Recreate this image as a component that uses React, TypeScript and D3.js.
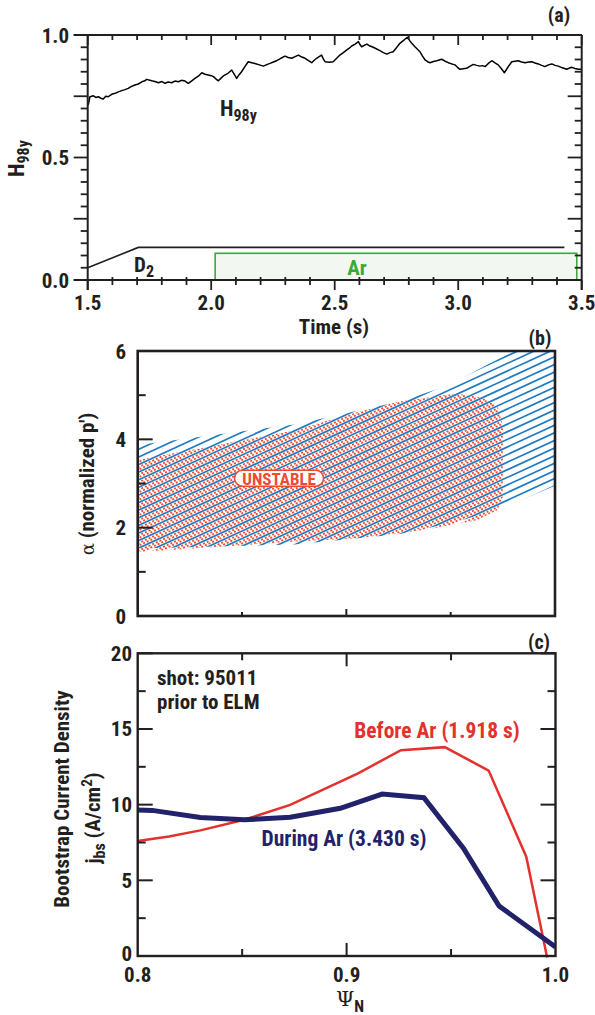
import React from "react";
import * as d3 from "d3";

// ---------- Panel (a) data ----------
const H98Y_TRACE: [number, number][] = [
  [1.502, 0.714], [1.509, 0.748], [1.523, 0.752], [1.533, 0.745], [1.543, 0.748], [1.553, 0.742], [1.563, 0.739], [1.573, 0.75], [1.583, 0.748],
  [1.597, 0.758], [1.611, 0.762], [1.624, 0.768], [1.638, 0.773], [1.651, 0.777], [1.664, 0.782], [1.677, 0.79], [1.691, 0.796], [1.705, 0.8], [1.719, 0.809], [1.729, 0.812], [1.739, 0.819],
  [1.759, 0.813], [1.772, 0.81], [1.786, 0.805], [1.8, 0.81], [1.813, 0.803], [1.826, 0.808], [1.84, 0.805], [1.853, 0.812], [1.867, 0.809], [1.88, 0.815], [1.894, 0.812],
  [1.907, 0.803], [1.92, 0.812], [1.934, 0.823], [1.948, 0.832], [1.962, 0.846], [1.975, 0.84], [1.988, 0.837], [2.0, 0.834], [2.009, 0.83], [2.02, 0.82], [2.029, 0.813],
  [2.04, 0.824], [2.049, 0.833], [2.066, 0.842], [2.083, 0.857], [2.093, 0.84], [2.103, 0.823], [2.113, 0.838], [2.123, 0.85], [2.137, 0.872], [2.15, 0.891], [2.164, 0.887], [2.177, 0.884],
  [2.195, 0.878], [2.211, 0.873], [2.225, 0.879], [2.238, 0.884], [2.252, 0.89], [2.265, 0.895], [2.282, 0.905], [2.299, 0.914], [2.312, 0.908], [2.326, 0.905], [2.34, 0.912], [2.353, 0.918],
  [2.367, 0.91], [2.38, 0.905], [2.394, 0.895], [2.407, 0.887], [2.417, 0.897], [2.427, 0.905], [2.437, 0.912], [2.447, 0.918], [2.454, 0.902], [2.461, 0.891], [2.478, 0.889], [2.494, 0.891],
  [2.508, 0.905], [2.521, 0.918], [2.535, 0.928], [2.549, 0.939], [2.559, 0.946], [2.569, 0.955], [2.583, 0.963], [2.596, 0.973], [2.603, 0.96], [2.609, 0.952], [2.62, 0.958], [2.63, 0.963],
  [2.643, 0.955], [2.656, 0.95], [2.67, 0.943], [2.683, 0.936], [2.697, 0.928], [2.711, 0.922], [2.724, 0.928], [2.737, 0.932], [2.75, 0.948], [2.764, 0.966], [2.779, 0.978], [2.794, 0.991],
  [2.803, 0.978], [2.812, 0.966], [2.825, 0.952], [2.838, 0.939], [2.845, 0.932], [2.855, 0.915], [2.866, 0.898], [2.876, 0.891], [2.886, 0.887], [2.9, 0.892], [2.913, 0.895],
  [2.923, 0.898], [2.933, 0.901], [2.947, 0.893], [2.96, 0.887], [2.974, 0.882], [2.987, 0.878], [2.997, 0.868], [3.007, 0.86], [3.02, 0.862], [3.034, 0.864], [3.047, 0.872], [3.061, 0.88],
  [3.075, 0.876], [3.088, 0.873], [3.098, 0.875], [3.109, 0.871], [3.122, 0.884], [3.136, 0.895], [3.149, 0.886], [3.162, 0.878], [3.175, 0.862], [3.187, 0.846], [3.202, 0.87], [3.217, 0.891],
  [3.23, 0.893], [3.243, 0.895], [3.257, 0.89], [3.271, 0.887], [3.285, 0.89], [3.298, 0.891], [3.311, 0.886], [3.324, 0.882], [3.338, 0.876], [3.351, 0.871], [3.365, 0.878], [3.379, 0.882],
  [3.392, 0.876], [3.405, 0.873], [3.422, 0.866], [3.439, 0.86], [3.45, 0.865], [3.46, 0.868], [3.473, 0.863], [3.486, 0.86], [3.497, 0.86],
];
const D2_TIME = [1.5, 1.705, 3.43];
const D2_LEVEL = [0.05, 0.133, 0.133];
const AR_WINDOW = [2.016, 3.48];
const AR_LEVEL = 0.109;
const A_XTICKS = ["1.5", "2.0", "2.5", "3.0", "3.5"];
const A_YTICKS = ["0.0", "0.5", "1.0"];

// ---------- Panel (b) data ----------
const STABLE_X = [0, 1.52, 2.5, 2.96, 3.36, 3.57, 3.75, 4.05, 4.05, 3.45, 3.0, 2.5, 1.5, 0];
const STABLE_A = [3.87, 4.34, 4.85, 5.2, 5.7, 5.95, 6.2, 6.2, 3.0, 2.4, 2.1, 1.85, 1.62, 1.53];
const UNSTABLE_X = [0, 0, 1.52, 2.0, 2.5, 3.05, 3.3, 3.45, 3.5, 3.5, 3.45, 3.25, 2.74, 2.1, 1.46, 0.6];
const UNSTABLE_A = [1.45, 3.53, 4.21, 4.55, 4.85, 5.04, 4.95, 4.75, 4.3, 2.7, 2.4, 2.17, 1.95, 1.76, 1.68, 1.54];
const B_YTICKS = ["0", "2", "4", "6"];
const UNSTABLE_LABEL_POS = [1.355, 3.12];

// ---------- Panel (c) data ----------
const PSI_BEFORE = [0.8, 0.805, 0.815, 0.83, 0.851, 0.873, 0.881, 0.9055, 0.926, 0.947, 0.968, 0.986, 0.996];
const J_BEFORE = [7.6, 7.7, 7.9, 8.3, 9.0, 9.98, 10.5, 12.07, 13.6, 13.8, 12.25, 6.56, -0.1];
const PSI_DURING = [0.8, 0.807, 0.83, 0.851, 0.873, 0.897, 0.917, 0.937, 0.956, 0.973, 1.0];
const J_DURING = [9.65, 9.62, 9.15, 9.0, 9.17, 9.76, 10.7, 10.46, 7.1, 3.3, 0.6];
const C_XTICKS = ["0.8", "0.9", "1.0"];
const C_YTICKS = ["0", "5", "10", "15", "20"];

const FONT = "'Liberation Sans Narrow','Arial Narrow','Roboto Condensed','Liberation Sans',Arial,sans-serif";
const INK = "#231f20";
const RED = "#e3312d";
const NAVY = "#22226a";
const BLUE = "#1f7bc2";
const STIPPLE = "#f04a33";
const GREEN = "#3aa935";

function hatchLines(x0: number, x1: number, y0: number, y1: number, slope: number, gap: number, offset: number) {
  const res: { x1: number; y1: number; x2: number; y2: number }[] = [];
  const span = (x1 - x0) * slope;
  for (let b = y0 + offset; b <= y1 + span; b += gap) {
    res.push({ x1: x0, y1: b, x2: x1, y2: b - span });
  }
  return res;
}

export default function App() {
  const ax = d3.scaleLinear().domain([1.5, 3.5]).range([87.7, 581.7]);
  const ay = d3.scaleLinear().domain([0, 1]).range([280, 35]);
  const bx = d3.scaleLinear().domain([0, 4]).range([137.7, 555]);
  const by = d3.scaleLinear().domain([0, 6]).range([616, 351]);
  const cx = d3.scaleLinear().domain([0.8, 1.0]).range([137.7, 555.5]);
  const cy = d3.scaleLinear().domain([0, 20]).range([956, 653.3]);

  const hLine = d3.line<[number, number]>().x((d) => ax(d[0])).y((d) => ay(d[1]));
  const d2Path = d3.line<number>().x((d, i) => ax(D2_TIME[i])).y((d) => ay(d))(D2_LEVEL) || "";

  const stablePath = d3.line<number>().x((d) => bx(d)).y((d, i) => by(STABLE_A[i]))(STABLE_X) + "Z";
  const unstablePath = d3.line<number>().x((d) => bx(d)).y((d, i) => by(UNSTABLE_A[i]))(UNSTABLE_X) + "Z";

  const beforePath = d3.line<number>().x((d) => cx(d)).y((d, i) => cy(J_BEFORE[i]))(PSI_BEFORE) || "";
  const duringPath = d3.line<number>().x((d) => cx(d)).y((d, i) => cy(J_DURING[i]))(PSI_DURING) || "";

  const slope = 0.46;
  const gap = 7.6;
  const blueLines = hatchLines(bx(0), bx(4), by(6), by(0), slope, gap, 0);
  const redLinesA = hatchLines(bx(0), bx(4), by(6), by(0), slope, gap, gap * 0.33);
  const redLinesB = hatchLines(bx(0), bx(4), by(6), by(0), slope, gap, gap * 0.66);

  const aMinor = d3.range(0, 21).map((i) => i * 0.05);
  const aTop = d3.range(0, 21).map((i) => 1.5 + i * 0.1);
  const cYticks = d3.range(0, 9).map((i) => i * 2.5);

  return (
    <svg width={595} height={1015} style={{ position: "absolute", left: 0, top: 0, background: "#fff" }} fontFamily={FONT}>
      <defs>
        <clipPath id="clipStable">
          <path d={stablePath} />
        </clipPath>
        <clipPath id="clipUnstable">
          <path d={unstablePath} />
        </clipPath>
        <clipPath id="clipB">
          <rect x={bx(0)} y={by(6)} width={bx(4) - bx(0)} height={by(0) - by(6)} />
        </clipPath>
        <clipPath id="clipC">
          <rect x={cx(0.8)} y={cy(20) - 5} width={cx(1) - cx(0.8)} height={cy(0) - cy(20) + 10} />
        </clipPath>
      </defs>

      {/* ================= Panel (a) ================= */}
      <g>
        <rect
          x={ax(AR_WINDOW[0])}
          y={ay(AR_LEVEL)}
          width={ax(AR_WINDOW[1]) - ax(AR_WINDOW[0])}
          height={ay(0) - ay(AR_LEVEL)}
          fill="#f3f7f1"
          stroke={GREEN}
          strokeWidth={1.6}
        />
        <path d={d2Path} fill="none" stroke={INK} strokeWidth={1.6} />
        <path d={hLine(H98Y_TRACE) || ""} fill="none" stroke="#000" strokeWidth={1.5} strokeLinejoin="round" />
        <line x1={ax(1.5) - 14} x2={ax(3.5)} y1={ay(1)} y2={ay(1)} stroke={INK} strokeWidth={2} />
        <line x1={ax(1.5) - 14} x2={ax(3.5)} y1={ay(0)} y2={ay(0)} stroke={INK} strokeWidth={2} />
        <line x1={ax(1.5)} x2={ax(1.5)} y1={ay(1)} y2={ay(0) + 10} stroke={INK} strokeWidth={2} />
        <line x1={ax(3.5)} x2={ax(3.5)} y1={ay(1)} y2={ay(0) + 10} stroke={INK} strokeWidth={2} />
        {aMinor.map((v, i) => {
          const major = i % 5 === 0;
          return (
            <g key={"ay" + i}>
              <line x1={ax(1.5) - (major ? 14 : 7)} x2={ax(1.5)} y1={ay(v)} y2={ay(v)} stroke={INK} strokeWidth={1.8} />
              <line x1={ax(3.5) - (major ? 14 : 7)} x2={ax(3.5)} y1={ay(v)} y2={ay(v)} stroke={INK} strokeWidth={1.8} />
            </g>
          );
        })}
        {aTop.map((v, i) => {
          const major = i % 5 === 0;
          return (
            <g key={"ax" + i}>
              <line x1={ax(v)} x2={ax(v)} y1={ay(1)} y2={ay(1) + (major ? 10 : 5)} stroke={INK} strokeWidth={1.8} />
              <line x1={ax(v)} x2={ax(v)} y1={major ? ay(0) : ay(0) - 3} y2={ay(0) + (major ? 10 : 5)} stroke={INK} strokeWidth={1.8} />
            </g>
          );
        })}
        {A_YTICKS.map((t) => (
          <text key={t} x={69} y={ay(+t) + 7.5} textAnchor="end" fontSize={21} fontWeight="bold" fill={INK}>
            {t}
          </text>
        ))}
        {A_XTICKS.map((t) => (
          <text key={t} x={ax(+t)} y={310} textAnchor="middle" fontSize={21} fontWeight="bold" fill={INK}>
            {t}
          </text>
        ))}
        <text x={334} y={334} textAnchor="middle" fontSize={21} fontWeight="bold" fill={INK}>
          Time (s)
        </text>
        <text x={559} y={22} textAnchor="middle" fontSize={20} fontWeight="bold" fill={INK}>
          (a)
        </text>
        <text transform="translate(24,177) rotate(-90)" fontSize={22} fontWeight="bold" fill={INK}>
          H<tspan fontSize={16} dy={5}>98y</tspan>
        </text>
        <text x={220} y={116} fontSize={22} fontWeight="bold" fill={INK}>
          H<tspan fontSize={16} dy={5}>98y</tspan>
        </text>
        <text x={134} y={272} fontSize={21} fontWeight="bold" fill={INK}>
          D<tspan fontSize={16} dy={5}>2</tspan>
        </text>
        <text x={357} y={275} textAnchor="middle" fontSize={21} fontWeight="bold" fill={GREEN}>
          Ar
        </text>
      </g>

      {/* ================= Panel (b) ================= */}
      <g>
        <g clipPath="url(#clipB)">
          <g clipPath="url(#clipUnstable)">
            {redLinesA.map((l, i) => (
              <line key={"ra" + i} {...l} stroke={STIPPLE} strokeWidth={1.8} strokeDasharray="2 2" />
            ))}
            {redLinesB.map((l, i) => (
              <line key={"rb" + i} {...l} stroke={STIPPLE} strokeWidth={1.8} strokeDasharray="2 2" strokeDashoffset={2} />
            ))}
          </g>
          <g clipPath="url(#clipStable)">
            {blueLines.map((l, i) => (
              <line key={"b" + i} {...l} stroke={BLUE} strokeWidth={1.7} />
            ))}
          </g>
        </g>
        <g transform={`translate(${bx(UNSTABLE_LABEL_POS[0])},${by(UNSTABLE_LABEL_POS[1])})`}>
          <rect x={-44.5} y={-8} width={89} height={16} rx={8} fill="#fff" stroke={STIPPLE} strokeWidth={1.5} />
          <text x={0} y={6.5} textAnchor="middle" fontSize={17} fontWeight="bold" fill={STIPPLE}>
            UNSTABLE
          </text>
        </g>
        <rect x={bx(0)} y={by(6)} width={bx(4) - bx(0)} height={by(0) - by(6)} fill="none" stroke={INK} strokeWidth={2.6} />
        {d3.range(1, 6).map((v) => (
          <line key={"bl" + v} x1={bx(0)} x2={bx(0) + (v % 2 === 0 ? 15 : 8)} y1={by(v)} y2={by(v)} stroke={INK} strokeWidth={2} />
        ))}
        {d3.range(1, 4).map((v) => (
          <line key={"bb" + v} x1={bx(v)} x2={bx(v)} y1={by(0)} y2={by(0) - (v === 2 ? 7 : 4)} stroke={INK} strokeWidth={2} />
        ))}
        {B_YTICKS.map((t) => (
          <text key={t} x={126} y={by(+t) + 7.5} textAnchor="end" fontSize={21} fontWeight="bold" fill={INK}>
            {t}
          </text>
        ))}
        <text transform={`translate(94,484) rotate(-90)`} textAnchor="middle" fontSize={21} fill={INK}>
          <tspan fontFamily="'DejaVu Serif',serif" fontSize={18}>α</tspan>
          <tspan fontWeight="bold"> (normalized p')</tspan>
        </text>
        <text x={540} y={345} textAnchor="middle" fontSize={20} fontWeight="bold" fill={INK}>
          (b)
        </text>
      </g>

      {/* ================= Panel (c) ================= */}
      <g>
        <g clipPath="url(#clipC)">
          <path d={beforePath} fill="none" stroke={RED} strokeWidth={2.5} />
          <path d={duringPath} fill="none" stroke={NAVY} strokeWidth={5} />
        </g>
        <rect x={cx(0.8)} y={cy(20)} width={cx(1) - cx(0.8)} height={cy(0) - cy(20)} fill="none" stroke={INK} strokeWidth={2.4} />
        {cYticks.map((v, i) => {
          const len = i % 2 === 0 ? 15 : 8;
          return (
            <g key={"cy" + i}>
              <line x1={cx(0.8)} x2={cx(0.8) + len} y1={cy(v)} y2={cy(v)} stroke={INK} strokeWidth={2} />
              <line x1={cx(1) - len} x2={cx(1)} y1={cy(v)} y2={cy(v)} stroke={INK} strokeWidth={2} />
            </g>
          );
        })}
        {[0.85, 0.9, 0.95].map((v) => {
          const len = v === 0.9 ? 13 : 7;
          return (
            <g key={"cx" + v}>
              <line x1={cx(v)} x2={cx(v)} y1={cy(20)} y2={cy(20) + len} stroke={INK} strokeWidth={2} />
              <line x1={cx(v)} x2={cx(v)} y1={cy(0)} y2={cy(0) - len} stroke={INK} strokeWidth={2} />
            </g>
          );
        })}
        {C_YTICKS.map((t) => (
          <text key={t} x={132} y={cy(+t) + (t === "0" ? 5 : 7.5)} textAnchor="end" fontSize={21} fontWeight="bold" fill={INK}>
            {t}
          </text>
        ))}
        {C_XTICKS.map((t) => (
          <text key={t} x={cx(+t)} y={982} textAnchor="middle" fontSize={21} fontWeight="bold" fill={INK}>
            {t}
          </text>
        ))}
        <text x={350} y={1006} textAnchor="middle" fontSize={21} fill={INK}>
          <tspan fontFamily="'DejaVu Serif',serif">Ψ</tspan>
          <tspan fontSize={16} fontWeight="bold" dy={6}>N</tspan>
        </text>
        <text x={539} y={649} textAnchor="middle" fontSize={20} fontWeight="bold" fill={INK}>
          (c)
        </text>
        <text transform="translate(69,799) rotate(-90)" textAnchor="middle" fontSize={21} fontWeight="bold" fill={INK}>
          Bootstrap Current Density
        </text>
        <text transform="translate(100,818) rotate(-90)" textAnchor="middle" fontSize={21} fontWeight="bold" fill={INK}>
          j<tspan fontSize={16} dy={5}>bs</tspan>
          <tspan dy={-5}> (A/cm</tspan>
          <tspan fontSize={15} dy={-8}>2</tspan>
          <tspan dy={8}>)</tspan>
        </text>
        <text x={157} y={685} fontSize={21} fontWeight="bold" fill={INK}>
          shot: 95011
        </text>
        <text x={157} y={709} fontSize={21} fontWeight="bold" fill={INK}>
          prior to ELM
        </text>
        <text x={437} y={738} textAnchor="middle" fontSize={21.5} fontWeight="bold" fill={RED}>
          Before Ar (1.918 s)
        </text>
        <text x={344} y={846} textAnchor="middle" fontSize={21.5} fontWeight="bold" fill={NAVY}>
          During Ar (3.430 s)
        </text>
      </g>
    </svg>
  );
}
